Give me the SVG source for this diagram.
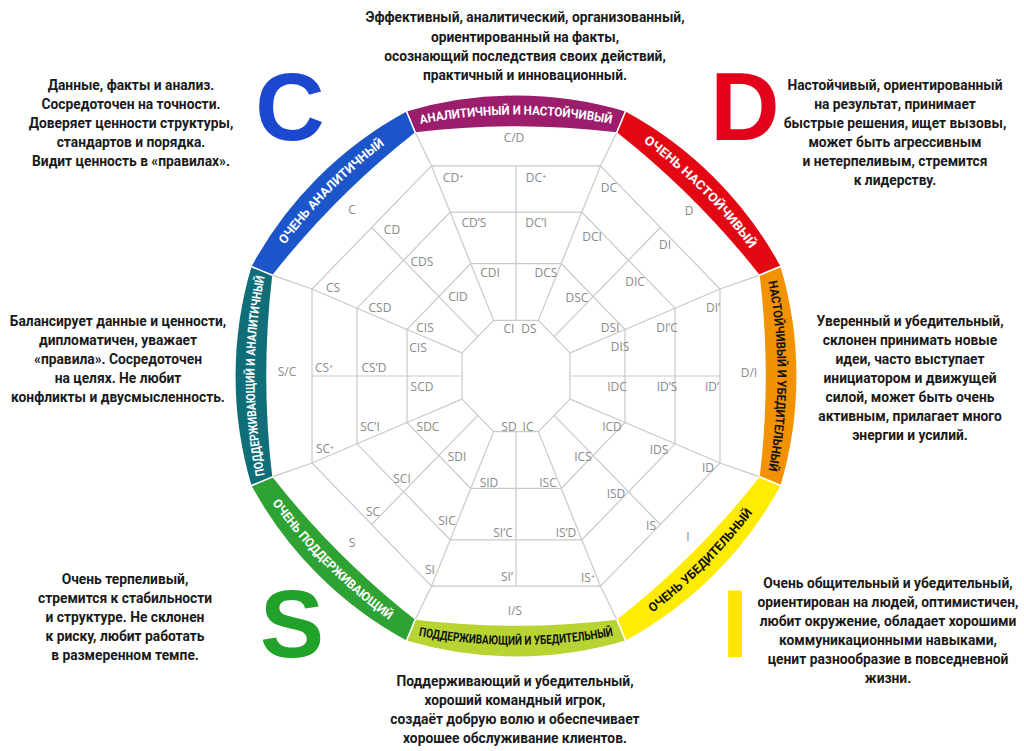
<svg xmlns="http://www.w3.org/2000/svg" width="1024" height="751" viewBox="0 0 1024 751">
<style>
.seg{stroke:#fff;stroke-width:1.5}
.web{fill:none;stroke:#c9c9c9;stroke-width:1.2}
.cl{font-family:"Open Sans","Liberation Sans",sans-serif;font-size:12px;fill:#8a8a8a;text-anchor:middle}
.rt{font-family:"Roboto","Liberation Sans",sans-serif;font-size:12.5px;font-weight:700}
.w{fill:#fff}.k{fill:#111}
.d{font-family:"Roboto","Liberation Sans",sans-serif;font-size:13.8px;font-weight:700;fill:#1a1a1a;text-anchor:middle}
.big{font-family:"Liberation Sans",sans-serif;font-weight:700;font-size:96px;text-anchor:middle}
</style>
<defs>
<path id="pT" d="M412.3,125.6 A494,494 0 0 1 619.7,125.6"/>
<path id="pTR" d="M619.7,125.6 A494,494 0 0 1 766.4,272.3"/>
<path id="pR" d="M766.4,272.3 A494,494 0 0 1 766.4,479.7"/>
<path id="pTL" d="M265.6,272.3 A494,494 0 0 1 412.3,125.6"/>
<path id="pL" d="M265.6,479.7 A494,494 0 0 1 265.6,272.3"/>
<path id="pBR" d="M622.8,633.8 A523,523 0 0 0 773.8,482.8"/>
<path id="pB" d="M409.2,633.8 A523,523 0 0 0 622.8,633.8"/>
<path id="pBL" d="M258.2,482.8 A523,523 0 0 0 409.2,633.8"/>
</defs>
<rect width="1024" height="751" fill="#fff"/>

<g id="ring">
<path class="seg" fill="#9b1d6b" d="M406.2,110.8 A385,385 0 0 1 625.8,110.8 L616.6,133 A847,847 0 0 0 415.4,133Z"/>
<path class="seg" fill="#e30613" d="M625.8,110.8 A385,385 0 0 1 781.2,266.2 L759,275.4 A847,847 0 0 0 616.6,133Z"/>
<path class="seg" fill="#f39200" d="M781.2,266.2 A385,385 0 0 1 781.2,485.8 L759,476.6 A847,847 0 0 0 759,275.4Z"/>
<path class="seg" fill="#ffec00" d="M781.2,485.8 A385,385 0 0 1 625.8,641.2 L616.6,619 A847,847 0 0 0 759,476.6Z"/>
<path class="seg" fill="#b8d432" d="M625.8,641.2 A385,385 0 0 1 406.2,641.2 L415.4,619 A847,847 0 0 0 616.6,619Z"/>
<path class="seg" fill="#2ea334" d="M406.2,641.2 A385,385 0 0 1 250.8,485.8 L273,476.6 A847,847 0 0 0 415.4,619Z"/>
<path class="seg" fill="#0f6e78" d="M250.8,485.8 A385,385 0 0 1 250.8,266.2 L273,275.4 A847,847 0 0 0 273,476.6Z"/>
<path class="seg" fill="#1b55c9" d="M250.8,266.2 A385,385 0 0 1 406.2,110.8 L415.4,133 A847,847 0 0 0 273,275.4Z"/>
<text class="rt w"><textPath href="#pT" startOffset="50%" text-anchor="middle" textLength="192" lengthAdjust="spacingAndGlyphs">АНАЛИТИЧНЫЙ И НАСТОЙЧИВЫЙ</textPath></text>
<text class="rt w"><textPath href="#pTR" startOffset="50%" text-anchor="middle" textLength="152" lengthAdjust="spacingAndGlyphs">ОЧЕНЬ НАСТОЙЧИВЫЙ</textPath></text>
<text class="rt k"><textPath href="#pR" startOffset="50%" text-anchor="middle" textLength="190" lengthAdjust="spacingAndGlyphs">НАСТОЙЧИВЫЙ И УБЕДИТЕЛЬНЫЙ</textPath></text>
<text class="rt k"><textPath href="#pBR" startOffset="50%" text-anchor="middle" textLength="142" lengthAdjust="spacingAndGlyphs">ОЧЕНЬ УБЕДИТЕЛЬНЫЙ</textPath></text>
<text class="rt k"><textPath href="#pB" startOffset="50%" text-anchor="middle" textLength="196" lengthAdjust="spacingAndGlyphs">ПОДДЕРЖИВАЮЩИЙ И УБЕДИТЕЛЬНЫЙ</textPath></text>
<text class="rt w"><textPath href="#pBL" startOffset="50%" text-anchor="middle" textLength="166" lengthAdjust="spacingAndGlyphs">ОЧЕНЬ ПОДДЕРЖИВАЮЩИЙ</textPath></text>
<text class="rt w"><textPath href="#pL" startOffset="50%" text-anchor="middle" textLength="200" lengthAdjust="spacingAndGlyphs">ПОДДЕРЖИВАЮЩИЙ И АНАЛИТИЧНЫЙ</textPath></text>
<text class="rt w"><textPath href="#pTL" startOffset="50%" text-anchor="middle" textLength="142" lengthAdjust="spacingAndGlyphs">ОЧЕНЬ АНАЛИТИЧНЫЙ</textPath></text>
</g>

<g id="connectors">
<polygon class="web" points="431.5,165.9 600.5,165.9 720,289 720,463 600.5,586.1 431.5,586.1 312,463 312,289"/>
<polygon class="web" points="450.2,212.2 581.8,212.2 675,308.2 675,443.8 581.8,539.8 450.2,539.8 357,443.8 357,308.2"/>
<polygon class="web" points="470.8,263.7 561.2,263.7 625,329.5 625,422.5 561.2,488.3 470.8,488.3 407,422.5 407,329.5"/>
<polygon class="web" points="493.6,320.4 538.4,320.4 570,352.9 570,399.1 538.4,431.6 493.6,431.6 462,399.1 462,352.9"/>
<polyline class="web" points="415.4,133 431.5,165.9 450.2,212.2 470.8,263.7 493.6,320.4"/>
<polyline class="web" points="616.6,133 600.5,165.9 581.8,212.2 561.2,263.7 538.4,320.4"/>
<polyline class="web" points="759,275.4 720,289 675,308.2 625,329.5 570,352.9"/>
<polyline class="web" points="759,476.6 720,463 675,443.8 625,422.5 570,399.1"/>
<polyline class="web" points="616.6,619 600.5,586.1 581.8,539.8 561.2,488.3 538.4,431.6"/>
<polyline class="web" points="415.4,619 431.5,586.1 450.2,539.8 470.8,488.3 493.6,431.6"/>
<polyline class="web" points="273,476.6 312,463 357,443.8 407,422.5 462,399.1"/>
<polyline class="web" points="273,275.4 312,289 357,308.2 407,329.5 462,352.9"/>
<line class="web" x1="516" y1="165.9" x2="516" y2="320.4"/>
<line class="web" x1="720" y1="376" x2="570" y2="376"/>
<line class="web" x1="516" y1="586.1" x2="516" y2="431.6"/>
<line class="web" x1="312" y1="376" x2="462" y2="376"/>
<line class="web" x1="660.3" y1="227.5" x2="554.2" y2="336.7"/>
<line class="web" x1="660.3" y1="524.5" x2="554.2" y2="415.3"/>
<line class="web" x1="371.7" y1="524.5" x2="477.8" y2="415.3"/>
<line class="web" x1="371.7" y1="227.5" x2="477.8" y2="336.7"/>
</g>

<g id="cells">
<text class="cl" x="514" y="142">C/D</text>
<text class="cl" x="453" y="182">CD⁺</text>
<text class="cl" x="536" y="182">DC⁺</text>
<text class="cl" x="474" y="227">CD’S</text>
<text class="cl" x="536" y="227">DC’I</text>
<text class="cl" x="490" y="277">CDI</text>
<text class="cl" x="546" y="277">DCS</text>
<text class="cl" x="509" y="333">CI</text>
<text class="cl" x="529" y="333">DS</text>
<text class="cl" x="609" y="192">DC</text>
<text class="cl" x="689" y="215">D</text>
<text class="cl" x="592" y="241">DCI</text>
<text class="cl" x="665" y="249">DI</text>
<text class="cl" x="577" y="302">DSC</text>
<text class="cl" x="635" y="286">DIC</text>
<text class="cl" x="610" y="332">DSI</text>
<text class="cl" x="620" y="351">DIS</text>
<text class="cl" x="667" y="332">DI’C</text>
<text class="cl" x="713" y="312">DI’</text>
<text class="cl" x="749" y="377">D/I</text>
<text class="cl" x="617" y="391">IDC</text>
<text class="cl" x="667" y="391">ID’S</text>
<text class="cl" x="712" y="391">ID’</text>
<text class="cl" x="612" y="431">ICD</text>
<text class="cl" x="583" y="461">ICS</text>
<text class="cl" x="659" y="454">IDS</text>
<text class="cl" x="616" y="498">ISD</text>
<text class="cl" x="708" y="472">ID</text>
<text class="cl" x="651" y="530">IS</text>
<text class="cl" x="688" y="541">I</text>
<text class="cl" x="509" y="431">SD</text>
<text class="cl" x="528" y="431">IC</text>
<text class="cl" x="489" y="487">SID</text>
<text class="cl" x="548" y="487">ISC</text>
<text class="cl" x="503" y="537">SI’C</text>
<text class="cl" x="566" y="537">IS’D</text>
<text class="cl" x="507" y="581">SI’</text>
<text class="cl" x="588" y="582">IS⁺</text>
<text class="cl" x="515" y="615">I/S</text>
<text class="cl" x="428" y="431">SDC</text>
<text class="cl" x="457" y="461">SDI</text>
<text class="cl" x="402" y="483">SCI</text>
<text class="cl" x="373" y="516">SC</text>
<text class="cl" x="447" y="525">SIC</text>
<text class="cl" x="352" y="547">S</text>
<text class="cl" x="430" y="574">SI</text>
<text class="cl" x="422" y="391">SCD</text>
<text class="cl" x="370" y="431">SC’I</text>
<text class="cl" x="325" y="453">SC⁺</text>
<text class="cl" x="287" y="376">S/C</text>
<text class="cl" x="324" y="372">CS⁺</text>
<text class="cl" x="374" y="372">CS’D</text>
<text class="cl" x="418" y="352">CIS</text>
<text class="cl" x="352" y="214">C</text>
<text class="cl" x="392" y="234">CD</text>
<text class="cl" x="333" y="292">CS</text>
<text class="cl" x="422" y="266">CDS</text>
<text class="cl" x="380" y="312">CSD</text>
<text class="cl" x="458" y="301">CID</text>
<text class="cl" x="425" y="332">CIS</text>
</g>

<g id="letters">
<text class="big" x="290" y="140" fill="#1b48cf">C</text>
<text class="big" x="745" y="140" fill="#e3001b">D</text>
<text class="big" x="292" y="657" fill="#22a22a">S</text>
<text class="big" x="735" y="657" fill="#ffe600">I</text>
</g>

<g id="desc-top">
<text class="d" x="525" y="22">Эффективный, аналитический, организованный,</text>
<text class="d" x="525" y="42">ориентированный на факты,</text>
<text class="d" x="525" y="61">осознающий последствия своих действий,</text>
<text class="d" x="525" y="80">практичный и инновационный.</text>
</g>
<g id="desc-c">
<text class="d" x="131" y="90">Данные, факты и анализ.</text>
<text class="d" x="131" y="109">Сосредоточен на точности.</text>
<text class="d" x="131" y="128">Доверяет ценности структуры,</text>
<text class="d" x="131" y="147">стандартов и порядка.</text>
<text class="d" x="131" y="166">Видит ценность в «правилах».</text>
</g>
<g id="desc-d">
<text class="d" x="895" y="90">Настойчивый, ориентированный</text>
<text class="d" x="895" y="109">на результат, принимает</text>
<text class="d" x="895" y="128">быстрые решения, ищет вызовы,</text>
<text class="d" x="895" y="147">может быть агрессивным</text>
<text class="d" x="895" y="166">и нетерпеливым, стремится</text>
<text class="d" x="895" y="185">к лидерству.</text>
</g>
<g id="desc-sc">
<text class="d" x="118" y="326">Балансирует данные и ценности,</text>
<text class="d" x="118" y="345">дипломатичен, уважает</text>
<text class="d" x="118" y="364">«правила». Сосредоточен</text>
<text class="d" x="118" y="383">на целях. Не любит</text>
<text class="d" x="118" y="402">конфликты и двусмысленность.</text>
</g>
<g id="desc-di">
<text class="d" x="910" y="326">Уверенный и убедительный,</text>
<text class="d" x="910" y="345">склонен принимать новые</text>
<text class="d" x="910" y="364">идеи, часто выступает</text>
<text class="d" x="910" y="383">инициатором и движущей</text>
<text class="d" x="910" y="402">силой, может быть очень</text>
<text class="d" x="910" y="421">активным, прилагает много</text>
<text class="d" x="910" y="440">энергии и усилий.</text>
</g>
<g id="desc-s">
<text class="d" x="125" y="584">Очень терпеливый,</text>
<text class="d" x="125" y="603">стремится к стабильности</text>
<text class="d" x="125" y="622">и структуре. Не склонен</text>
<text class="d" x="125" y="641">к риску, любит работать</text>
<text class="d" x="125" y="660">в размеренном темпе.</text>
</g>
<g id="desc-i">
<text class="d" x="888" y="588">Очень общительный и убедительный,</text>
<text class="d" x="888" y="607">ориентирован на людей, оптимистичен,</text>
<text class="d" x="888" y="626">любит окружение, обладает хорошими</text>
<text class="d" x="888" y="645">коммуникационными навыками,</text>
<text class="d" x="888" y="664">ценит разнообразие в повседневной</text>
<text class="d" x="888" y="683">жизни.</text>
</g>
<g id="desc-is">
<text class="d" x="515" y="686">Поддерживающий и убедительный,</text>
<text class="d" x="515" y="705">хороший командный игрок,</text>
<text class="d" x="515" y="724">создаёт добрую волю и обеспечивает</text>
<text class="d" x="515" y="743">хорошее обслуживание клиентов.</text>
</g>
</svg>
